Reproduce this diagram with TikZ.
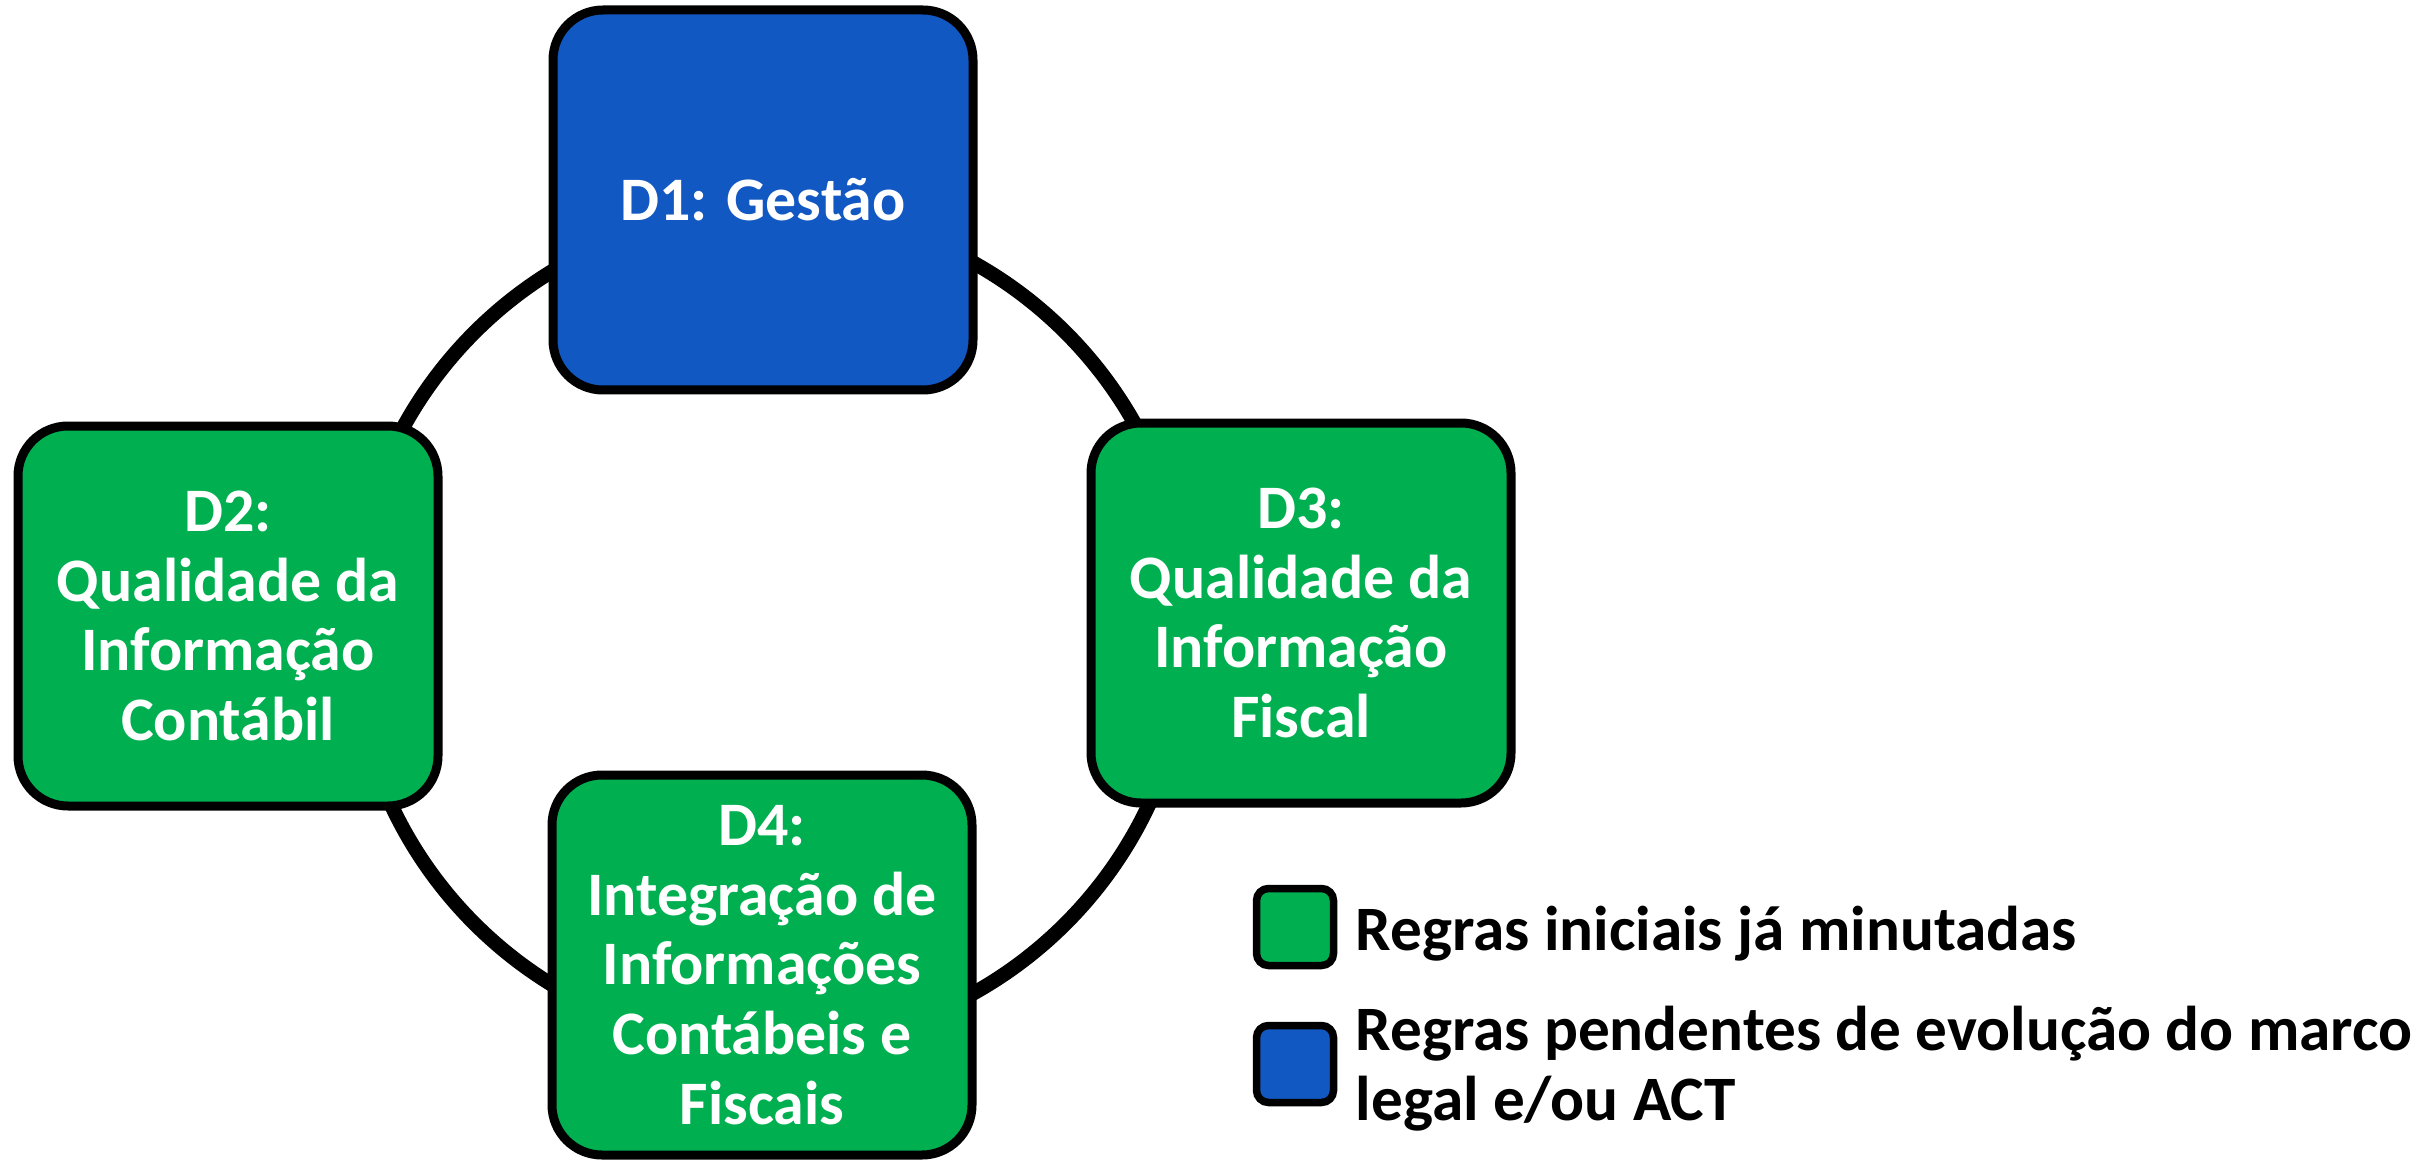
\documentclass[tikz,border=0pt]{standalone}
\usepackage{fontspec}
\setmainfont{Carlito}
\usetikzlibrary{positioning}

\definecolor{dgreen}{HTML}{00B050}
\definecolor{dblue}{HTML}{1158C2}

\tikzset{
	dbox/.style={draw=black,line width=0.9mm,rounded corners=5mm,minimum width=42mm,
		minimum height=38mm,inner sep=0pt,align=center,text=white,
		font=\bfseries\fontsize{17.6}{19.8}\selectfont},
	ring/.style={line width=1.45mm,color=black},
	keybox/.style={draw=black,line width=0.75mm,rounded corners=1.2mm,minimum size=7.7mm,inner sep=0pt},
	keytext/.style={align=left,text=black,inner sep=0pt,
		font=\bfseries\fontsize{18}{19.8}\selectfont}
}

\begin{document}
\begin{tikzpicture}[x=0.1mm,y=-0.1mm]
		\useasboundingbox (0,0) rectangle (2432,1160);
		
		\coordinate (ctr) at (770,628);
		\draw[ring] (ctr) circle [radius=41.8mm];
		
		\node[dbox,fill=dblue] (d1) at (763,200) {D1: Gestão};
		\node[dbox,fill=dgreen] (d2) at (228,616) {D2:\\Qualidade da\\Informação\\Contábil};
		\node[dbox,fill=dgreen] (d3) at (1301,613) {D3:\\Qualidade da\\Informação\\Fiscal};
		\node[dbox,fill=dgreen] (d4) at (762,965) {D4:\\Integração de\\Informações\\Contábeis e\\Fiscais};
		
		% legenda
		\node[keybox,fill=dgreen] (kgreen) at (1295,927) {};
		\node[keybox,fill=dblue] (kblue) at (1295,1064) {};
		\node[keytext,anchor=base west] (tgreen) at (1355,950) {Regras iniciais já minutadas};
		\node[keytext,anchor=base west] (tblue) at (1355,1120) {Regras pendentes de evolução do marco\\legal e/ou ACT};
\end{tikzpicture}
\end{document}
